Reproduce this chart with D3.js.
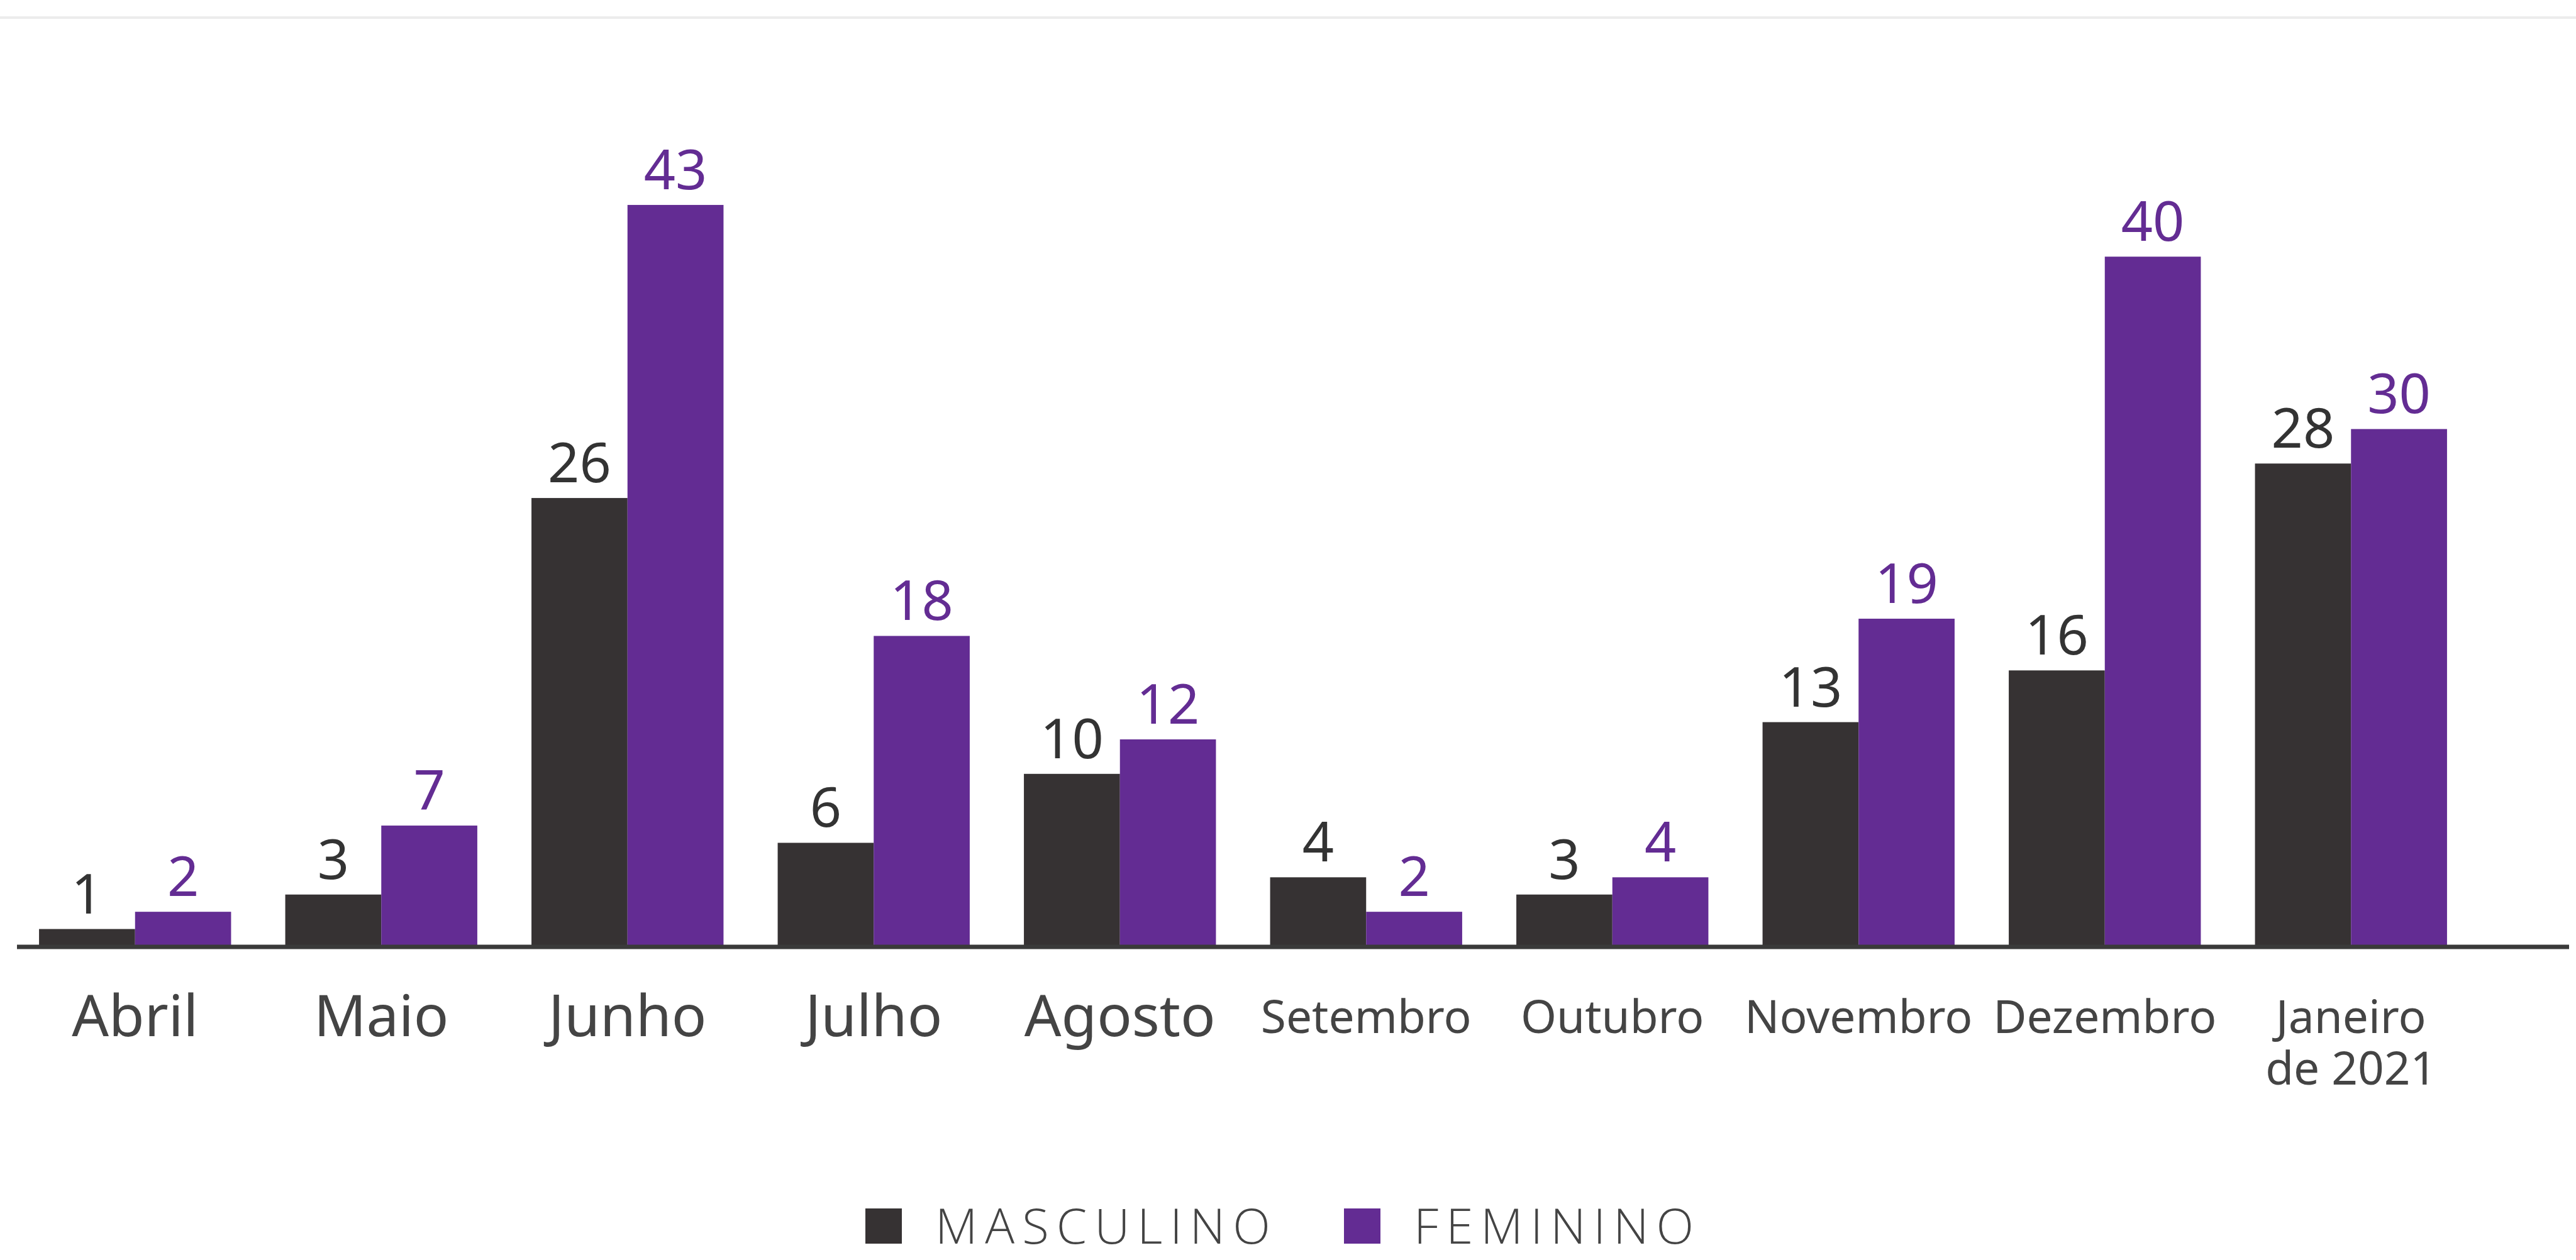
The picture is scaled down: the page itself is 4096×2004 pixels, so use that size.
<!DOCTYPE html>
<meta charset="utf-8">
<style>

body {
  margin: 0;
  background: #fff;
}

svg {
  display: block;
  font-family: 'Noto Sans', sans-serif;
}

.value {
  font-size: 88px;
  text-anchor: middle;
}

.month text {
  fill: #444;
  text-anchor: middle;
}

.legend text {
  font-family: 'Open Sans', sans-serif;
  font-weight: 300;
  font-size: 78px;
  fill: #444;
  letter-spacing: 12px;
}

</style>
<svg></svg>
<script src="https://cdn.jsdelivr.net/npm/d3@7"></script>
<script>

var months = ['Abril', 'Maio', 'Junho', 'Julho', 'Agosto', 'Setembro', 'Outubro', 'Novembro', 'Dezembro', 'Janeiro de 2021'];
var monthLines = [['Abril'], ['Maio'], ['Junho'], ['Julho'], ['Agosto'], ['Setembro'], ['Outubro'], ['Novembro'], ['Dezembro'], ['Janeiro', 'de 2021']];
var masculino = [1, 3, 26, 6, 10, 4, 3, 13, 16, 28];
var feminino = [2, 7, 43, 18, 12, 2, 4, 19, 40, 30];
var seriesNames = ['MASCULINO', 'FEMININO'];
var seriesColors = ['#363233', '#632c93'];

var width = 4096;
var height = 2004;
var baseY = 1505;

var svg = d3.select('svg')
  .attr('width', width)
  .attr('height', height);

// faint rule across the top
svg.append('line')
  .attr('x1', 0)
  .attr('x2', width)
  .attr('y1', 28)
  .attr('y2', 28)
  .attr('stroke', '#ececec')
  .attr('stroke-width', 4);

var x = d3.scaleBand()
  .domain(months)
  .range([19, 3934])
  .paddingInner(0.22)
  .paddingOuter(0.11);

var xs = d3.scaleBand()
  .domain(seriesNames)
  .range([0, x.bandwidth()]);

var y = d3.scaleLinear()
  .domain([0, 43])
  .range([baseY, baseY - 43 * 27.42]);

var rows = months.map(function (m, i) {
  return { month: m, values: [masculino[i], feminino[i]] };
});

function cells(d) {
  return d.values.map(function (v, j) { return { s: seriesNames[j], v: v, c: seriesColors[j] }; });
}

var group = svg.append('g')
  .selectAll('g')
  .data(rows)
  .enter().append('g')
  .attr('transform', function (d) { return 'translate(' + x(d.month) + ',0)'; });

group.selectAll('rect')
  .data(cells)
  .enter().append('rect')
  .attr('x', function (d) { return xs(d.s); })
  .attr('y', function (d) { return y(d.v); })
  .attr('width', xs.bandwidth())
  .attr('height', function (d) { return y(0) - y(d.v); })
  .attr('fill', function (d) { return d.c; });

group.selectAll('text')
  .data(cells)
  .enter().append('text')
  .attr('class', 'value')
  .attr('x', function (d) { return xs(d.s) + xs.bandwidth() / 2; })
  .attr('y', function (d) { return y(d.v) - 25; })
  .attr('fill', function (d, j) { return j === 0 ? '#333' : d.c; })
  .text(function (d) { return d.v; });

// month labels through the axis, then restyled
var xAxis = d3.axisBottom(x).tickSize(0);

var axisG = svg.append('g')
  .attr('class', 'month')
  .attr('transform', 'translate(0,' + baseY + ')')
  .call(xAxis)
  .attr('font-family', null)
  .attr('font-size', null);

axisG.select('.domain').remove();

axisG.selectAll('.tick text')
  .attr('y', null)
  .attr('dy', null)
  .attr('fill', null)
  .text(null)
  .each(function (d, i) {
    var lines = monthLines[i];
    var small = lines[0].length > 6;
    var t = d3.select(this).style('font-size', (small ? 73 : 92) + 'px');
    lines.forEach(function (line, k) {
      t.append('tspan')
        .attr('x', 0)
        .attr('y', (small ? 138 : 143) + k * 82)
        .text(line);
    });
  });

// baseline
svg.append('line')
  .attr('x1', 27)
  .attr('x2', 4085)
  .attr('y1', baseY + 1)
  .attr('y2', baseY + 1)
  .attr('stroke', '#3a3a3a')
  .attr('stroke-width', 7);

// legend
var legendX = [1376, 2137];

var legend = svg.append('g')
  .attr('class', 'legend')
  .selectAll('g')
  .data(seriesNames)
  .enter().append('g')
  .attr('transform', function (d, i) { return 'translate(' + legendX[i] + ',1922)'; });

legend.append('rect')
  .attr('width', 58)
  .attr('height', 56)
  .attr('fill', function (d, i) { return seriesColors[i]; });

legend.append('text')
  .attr('x', 111)
  .attr('y', 56)
  .text(function (d) { return d; });

</script>
